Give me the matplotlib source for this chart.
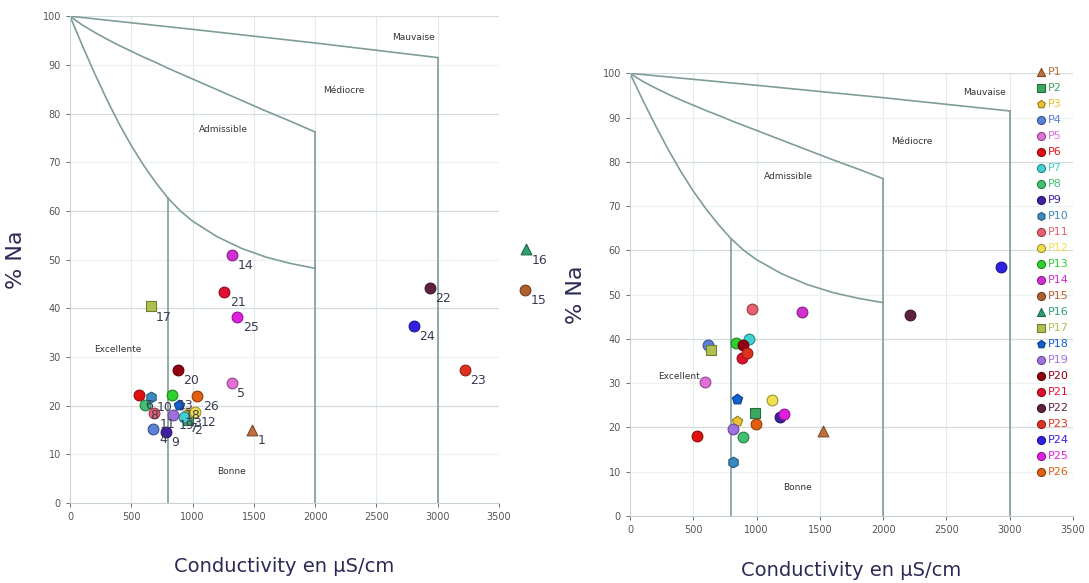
import numpy as np
import matplotlib
matplotlib.use("Agg")
import matplotlib.pyplot as plt
import matplotlib.colors as mcolors

# Wilcox diagram boundaries (conductivity in uS/cm, % Na)
curve_exc_x = [0, 100, 200, 300, 400, 500, 600, 700, 800, 900, 1000, 1200, 1400, 1600, 1800, 2000]
curve_exc_y = [100, 94.0, 88.3, 82.9, 77.9, 73.4, 69.4, 65.8, 62.6, 60.0, 57.9, 54.7,
               52.3, 50.5, 49.2, 48.2]
curve_adm_x = [0, 100, 200, 300, 400, 500, 600, 700, 800, 900, 1000, 1200, 1400, 1600, 1800, 2000]
curve_adm_y = [100, 98.2, 96.7, 95.3, 94.0, 92.8, 91.6, 90.5, 89.3, 88.2, 87.1, 84.9,
               82.7, 80.5, 78.4, 76.2]
curve_med_x = [0, 1000, 2000, 3000]
curve_med_y = [100, 97.3, 94.5, 91.5]

names = ["P%d" % i for i in range(1, 27)]
markers = ["^", "s", "p", "o", "o", "o", "o", "o", "o", "h", "o", "o", "o",
           "o", "o", "^", "s", "p", "o", "o", "o", "o", "o", "o", "o", "o"]
colors = ["#c0703a", "#3aa860", "#e8c030", "#5a80d8", "#e070d8", "#e01010",
          "#40d0d0", "#40c070", "#4020a0", "#3a8ac0", "#e86070", "#f0e050",
          "#30d030", "#d030d0", "#b06030", "#30a070", "#b0c050", "#1060d0",
          "#a070e0", "#900010", "#e01030", "#602040", "#e03020", "#3020e0",
          "#e020e0", "#e06010"]

# left diagram
left_x = [1486, 966, 960, 680, 1320, 566, 930, 612, 784, 659, 686, 1020, 830,
          1320, 3714, 3720, 657, 892, 843, 880, 1257, 2934, 3220, 2806, 1366, 1039]
left_y = [15.1, 17.0, 18.5, 15.3, 24.6, 22.2, 17.6, 20.1, 14.6, 21.8, 18.4, 18.7, 22.2,
          51.0, 43.8, 52.1, 40.4, 20.1, 18.1, 27.3, 43.4, 44.1, 27.4, 36.3, 38.3, 22.0]

# right diagram (P15, P16 not shown)
right_x = [1526, 987, 847, 618, 592, 531, 942, 895, 1184, 811, 961, 1124, 837,
           1360, np.nan, np.nan, 637, 842, 816, 895, 882, 2211, 926, 2934, 1218, 992]
right_y = [19.2, 23.3, 21.5, 38.6, 30.3, 18.1, 40.1, 17.8, 22.3, 12.1, 46.8, 26.2, 39.1,
           46.0, np.nan, np.nan, 37.6, 26.4, 19.6, 38.6, 35.6, 45.4, 36.9, 56.3, 23.0, 20.7]

line_col = "#7f9c9a"
navy = "#2b2b55"


def darker(c, f=0.65):
    r, g, b = mcolors.to_rgb(c)
    return (r * f, g * f, b * f)


def draw_base(ax, exc_label):
    ax.set_xlim(0, 3500)
    ax.set_ylim(0, 100)
    ax.set_xticks(range(0, 3501, 500))
    ax.set_yticks(range(0, 101, 10))
    for v in range(500, 3501, 500):
        ax.axvline(v, color="#e4e9e9", lw=0.8, zorder=0)
    for v in range(10, 101, 10):
        ax.axhline(v, color="#d5dcdc" if v % 20 == 0 else "#eef1f1", lw=0.9, zorder=0)
    ax.plot(curve_exc_x, curve_exc_y, color=line_col, lw=1.2, zorder=1)
    ax.plot(curve_adm_x, curve_adm_y, color=line_col, lw=1.2, zorder=1)
    ax.plot(curve_med_x, curve_med_y, color=line_col, lw=1.2, zorder=1)
    ax.plot([800, 800], [0, np.interp(800, curve_exc_x, curve_exc_y)], color=line_col, lw=1.2, zorder=1)
    ax.plot([2000, 2000], [0, curve_adm_y[-1]], color=line_col, lw=1.2, zorder=1)
    ax.plot([3000, 3000], [0, curve_med_y[-1]], color=line_col, lw=1.2, zorder=1)
    for s in ["top", "right"]:
        ax.spines[s].set_visible(False)
    for s in ["left", "bottom"]:
        ax.spines[s].set_color("#c8d2d2")
    ax.tick_params(labelsize=7, colors="#555555", length=3, width=0.6)
    fs = 6.5
    ax.text(2800, 95.7, "Mauvaise", fontsize=fs, color="#333333", ha="center", va="center")
    ax.text(2230, 84.7, "Médiocre", fontsize=fs, color="#333333", ha="center", va="center")
    ax.text(1255, 76.7, "Admissible", fontsize=fs, color="#333333", ha="center", va="center")
    ax.text(390, 31.6, exc_label, fontsize=fs, color="#333333", ha="center", va="center")
    ax.text(1320, 6.5, "Bonne", fontsize=fs, color="#333333", ha="center", va="center")
    ax.set_ylabel("% Na", fontsize=16, color=navy)
    ax.set_xlabel("Conductivity en µS/cm", fontsize=14, color=navy)


fig = plt.figure(figsize=(10.89, 5.83), dpi=100)
ax1 = fig.add_axes([0.0643, 0.1372, 0.394, 0.835])
ax2 = fig.add_axes([0.5785, 0.1149, 0.4068, 0.7593])

draw_base(ax1, "Excellente")
draw_base(ax2, "Excellent")
ax1.yaxis.labelpad = 12
ax1.xaxis.labelpad = 25
ax2.yaxis.labelpad = 12
ax2.xaxis.labelpad = 19

for i in range(26):
    ax1.scatter(left_x[i], left_y[i], s=60, marker=markers[i], color=colors[i],
                edgecolors=darker(colors[i]), linewidths=0.8, zorder=3, clip_on=False)
    ax1.annotate(str(i + 1), (left_x[i], left_y[i]), xytext=(4, -3), textcoords="offset points",
                 ha="left", va="top", fontsize=9, color="#3a3a55", zorder=4,
                 annotation_clip=False)
    if not np.isnan(right_x[i]):
        ax2.scatter(right_x[i], right_y[i], s=60, marker=markers[i], color=colors[i],
                    edgecolors=darker(colors[i]), linewidths=0.8, zorder=3, label=names[i])
    else:
        ax2.scatter([], [], s=60, marker=markers[i], color=colors[i],
                    edgecolors=darker(colors[i]), linewidths=0.8, label=names[i])

leg = ax2.legend(loc="upper left", bbox_to_anchor=(0.905, 1.025), frameon=False,
                 fontsize=8, labelspacing=0.54, handletextpad=0.1, borderaxespad=0,
                 handlelength=1.0, markerscale=0.75)
for t, c in zip(leg.get_texts(), colors):
    t.set_color(c)

fig.savefig("out.png", dpi=100)
